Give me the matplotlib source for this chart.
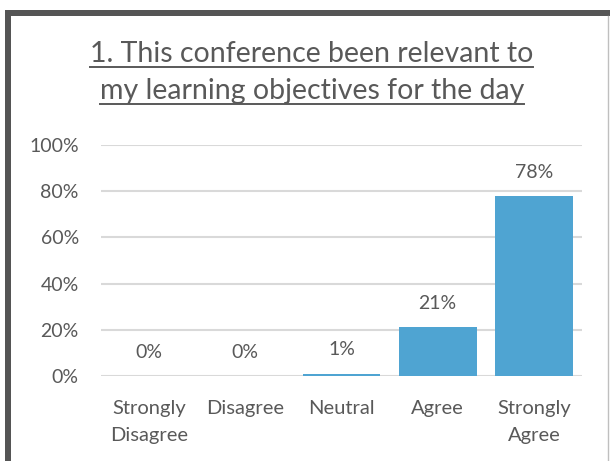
import matplotlib.pyplot as plt
from matplotlib.patches import Rectangle
from matplotlib.lines import Line2D

categories = ["Strongly\nDisagree", "Disagree", "Neutral", "Agree", "Strongly\nAgree"]
shares = [0.00, 0.00, 0.01, 0.21, 0.78]
yticks = [0, 0.2, 0.4, 0.6, 0.8, 1.0]
title_lines = ["1. This conference been relevant to", "my learning objectives for the day"]

text_color = "#595959"
bar_color = "#4FA4D2"
grid_color = "#D9D9D9"

plt.rcParams["font.family"] = ["Lato", "DejaVu Sans"]

fig = plt.figure(figsize=(6.10, 4.61), dpi=100)
W, H = 610, 461

# frame around the chart (screenshot border)
fig.add_artist(Rectangle((5 / W, 1 - 16 / H), 605 / W, 6 / H, transform=fig.transFigure,
                         color="#555555", lw=0))
fig.add_artist(Rectangle((5 / W, 0), 6 / W, 1 - 10 / H, transform=fig.transFigure,
                         color="#555555", lw=0))
fig.add_artist(Line2D([608 / W, 608 / W], [0, 1 - 16 / H], transform=fig.transFigure,
                      color="#BFBFBF", lw=1))

ax = fig.add_axes([101 / W, 1 - 376 / H, 481 / W, 231 / H])
x = range(len(categories))
bars = ax.bar(x, shares, width=0.81, color=bar_color, zorder=3)

for xi, v in zip(x, shares):
    ax.annotate(f"{v:.0%}", (xi, v), xytext=(0, 11), textcoords="offset points",
                ha="center", va="bottom", fontsize=14, color=text_color)

ax.set_ylim(0, 1.0)
ax.set_xlim(-0.5, len(categories) - 0.5)
ax.set_yticks(yticks)
ax.set_yticklabels([f"{t:.0%}" for t in yticks])
ax.set_xticks(list(x))
ax.set_xticklabels(categories, linespacing=1.75)
ax.tick_params(axis="y", length=0, pad=16, labelsize=14, labelcolor=text_color)
ax.tick_params(axis="x", length=0, pad=17, labelsize=14.5, labelcolor=text_color)
ax.grid(axis="y", color=grid_color, lw=1.5, zorder=0)
for s in ax.spines.values():
    s.set_visible(False)

# underlined two-line title
fig.canvas.draw()
renderer = fig.canvas.get_renderer()
for i, line in enumerate(title_lines):
    yb = 1 - (62 + 37 * i) / H
    t = fig.text(0.511, yb, line, ha="center", va="baseline", fontsize=20.5, color=text_color)
    bb = t.get_window_extent(renderer)
    uy = yb - 5 / H
    fig.add_artist(Line2D([bb.x0 / W, bb.x1 / W], [uy, uy], transform=fig.transFigure,
                          color=text_color, lw=1.4))

fig.savefig("out.png", dpi=100)
